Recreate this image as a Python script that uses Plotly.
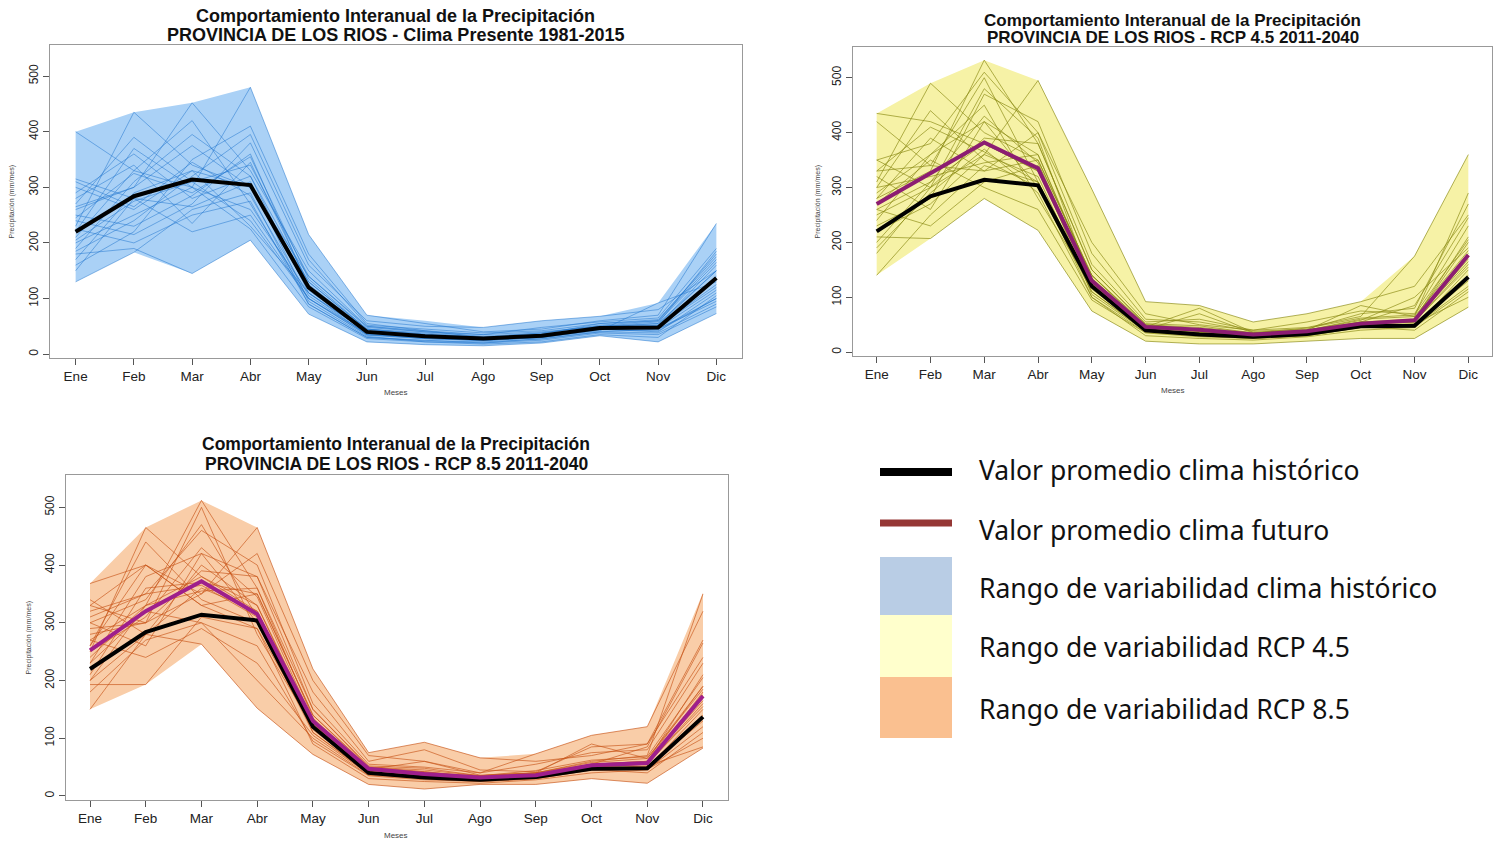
import plotly.graph_objects as go

# ---------------------------------------------------------------- data
meses = ["Ene", "Feb", "Mar", "Abr", "May", "Jun", "Jul", "Ago", "Sep", "Oct", "Nov", "Dic"]
y_ticks = [0, 100, 200, 300, 400, 500]

# mean monthly precipitation (mm/mes)
media_historica = [220, 284, 314, 304, 120, 40, 32, 28, 33, 47, 48, 137]
media_rcp45 = [270, 326, 382, 335, 130, 46, 41, 32, 38, 52, 58, 177]
media_rcp85 = [252, 320, 372, 315, 130, 47, 38, 32, 36, 53, 57, 173]

# variability range (max / min over the years)
hist_max = [400, 435, 452, 480, 215, 70, 60, 48, 60, 68, 92, 235]
hist_min = [130, 183, 145, 205, 72, 22, 17, 15, 20, 33, 22, 73]
rcp45_max = [435, 490, 532, 495, 297, 92, 85, 55, 70, 92, 175, 360]
rcp45_min = [140, 207, 280, 222, 75, 20, 15, 15, 20, 25, 25, 82]
rcp85_max = [368, 465, 512, 465, 220, 75, 93, 66, 73, 105, 120, 352]
rcp85_min = [150, 193, 263, 152, 72, 20, 12, 20, 20, 30, 22, 83]

# individual years
anios_historicos = [
    [400, 330, 300, 260, 110, 35, 28, 25, 30, 45, 50, 120],
    [230, 435, 340, 300, 130, 45, 35, 30, 35, 50, 55, 150],
    [260, 300, 452, 330, 150, 50, 40, 32, 38, 52, 60, 180],
    [200, 250, 300, 480, 215, 70, 55, 40, 45, 60, 70, 235],
    [130, 183, 260, 290, 90, 30, 25, 20, 28, 40, 45, 100],
    [180, 190, 145, 205, 72, 22, 17, 15, 20, 33, 22, 73],
    [315, 280, 220, 250, 100, 38, 30, 28, 32, 45, 40, 110],
    [270, 390, 310, 340, 140, 48, 40, 35, 40, 50, 52, 160],
    [160, 220, 350, 410, 180, 55, 42, 30, 35, 48, 55, 185],
    [250, 230, 285, 360, 120, 42, 35, 28, 35, 45, 48, 140],
    [210, 330, 420, 270, 100, 35, 30, 25, 30, 42, 92, 130],
    [300, 260, 330, 230, 110, 40, 30, 27, 32, 50, 45, 95],
    [190, 310, 395, 320, 130, 45, 38, 30, 36, 55, 60, 170],
    [240, 215, 270, 380, 160, 60, 50, 48, 60, 68, 80, 150],
    [150, 280, 265, 310, 95, 32, 22, 20, 25, 38, 35, 85],
    [220, 370, 300, 225, 85, 28, 22, 18, 22, 35, 30, 105],
    [280, 340, 235, 345, 125, 44, 33, 30, 34, 46, 50, 125],
    [265, 300, 375, 300, 115, 38, 30, 26, 32, 46, 52, 150],
    [185, 240, 320, 395, 170, 52, 45, 38, 42, 55, 62, 175],
    [245, 325, 290, 355, 135, 45, 36, 30, 38, 50, 58, 165],
    [310, 265, 345, 285, 105, 36, 28, 24, 30, 44, 46, 115],
    [170, 290, 330, 300, 140, 50, 42, 35, 48, 58, 65, 190],
    [225, 200, 250, 275, 90, 30, 24, 22, 27, 40, 38, 90],
    [290, 360, 280, 320, 110, 40, 32, 28, 34, 47, 50, 135],
    [205, 275, 310, 240, 100, 34, 28, 25, 30, 44, 42, 100],
]
anios_rcp45 = [
    [435, 420, 380, 330, 120, 40, 35, 30, 35, 50, 60, 200],
    [310, 490, 400, 350, 140, 45, 40, 32, 38, 55, 55, 180],
    [280, 330, 532, 380, 150, 50, 45, 35, 40, 60, 65, 290],
    [250, 300, 360, 495, 297, 92, 85, 55, 70, 92, 120, 250],
    [140, 250, 340, 310, 100, 30, 25, 22, 28, 40, 45, 150],
    [210, 207, 280, 222, 75, 20, 15, 15, 20, 25, 25, 82],
    [350, 380, 510, 400, 160, 55, 60, 40, 45, 65, 175, 360],
    [300, 440, 350, 300, 110, 40, 35, 28, 32, 48, 50, 140],
    [230, 280, 470, 420, 180, 60, 55, 38, 42, 70, 80, 270],
    [270, 350, 300, 260, 95, 35, 28, 25, 30, 45, 48, 120],
    [320, 260, 420, 360, 130, 45, 38, 30, 36, 55, 60, 210],
    [200, 310, 380, 330, 140, 50, 42, 32, 38, 52, 55, 160],
    [290, 360, 450, 280, 120, 42, 70, 35, 40, 58, 100, 190],
    [420, 340, 330, 400, 200, 70, 50, 40, 55, 75, 70, 230],
    [260, 230, 310, 340, 105, 38, 30, 26, 32, 46, 40, 110],
    [180, 300, 480, 390, 125, 48, 40, 30, 38, 50, 58, 170],
    [330, 410, 365, 310, 115, 40, 35, 28, 33, 48, 52, 100],
    [300, 320, 345, 360, 135, 45, 38, 30, 36, 52, 58, 165],
    [240, 360, 420, 300, 120, 42, 36, 30, 35, 50, 55, 175],
    [350, 300, 390, 380, 150, 52, 48, 35, 44, 62, 68, 205],
    [220, 270, 360, 320, 110, 38, 32, 27, 32, 48, 50, 130],
    [280, 390, 330, 350, 140, 48, 42, 33, 40, 55, 85, 245],
    [330, 340, 500, 310, 125, 44, 38, 30, 36, 52, 56, 155],
    [190, 290, 370, 290, 100, 36, 30, 25, 30, 45, 46, 115],
    [260, 310, 430, 345, 130, 46, 80, 36, 40, 85, 65, 185],
]
anios_rcp85 = [
    [368, 400, 330, 290, 120, 40, 35, 30, 35, 50, 55, 160],
    [250, 465, 380, 320, 130, 45, 40, 32, 38, 55, 60, 190],
    [200, 330, 512, 360, 150, 50, 45, 35, 40, 60, 70, 350],
    [280, 300, 350, 465, 220, 75, 93, 66, 60, 70, 90, 240],
    [150, 280, 263, 152, 72, 20, 12, 20, 20, 30, 22, 83],
    [193, 193, 310, 290, 90, 30, 25, 22, 28, 40, 45, 120],
    [320, 350, 460, 400, 160, 55, 50, 40, 73, 105, 120, 320],
    [260, 440, 340, 300, 110, 40, 35, 28, 32, 48, 50, 140],
    [300, 260, 420, 380, 180, 60, 80, 45, 42, 85, 90, 270],
    [230, 320, 300, 260, 95, 35, 28, 25, 30, 45, 48, 150],
    [340, 280, 400, 330, 130, 45, 38, 30, 36, 55, 60, 210],
    [210, 360, 370, 350, 140, 50, 42, 32, 38, 52, 55, 180],
    [290, 300, 500, 280, 120, 42, 40, 35, 40, 58, 65, 190],
    [330, 400, 350, 420, 200, 70, 60, 40, 55, 75, 80, 230],
    [270, 240, 290, 230, 105, 38, 30, 26, 32, 46, 40, 110],
    [240, 330, 380, 330, 125, 48, 40, 30, 38, 50, 58, 170],
    [310, 350, 365, 310, 115, 40, 35, 28, 33, 48, 52, 85],
    [270, 330, 355, 360, 135, 45, 38, 30, 36, 52, 58, 165],
    [230, 380, 420, 300, 120, 42, 36, 30, 35, 50, 55, 175],
    [330, 300, 390, 380, 150, 52, 48, 35, 44, 62, 68, 205],
    [200, 280, 360, 320, 110, 38, 32, 27, 32, 48, 50, 130],
    [260, 400, 330, 350, 140, 48, 42, 33, 40, 55, 85, 265],
    [300, 340, 470, 310, 125, 44, 38, 30, 36, 52, 56, 155],
    [180, 270, 300, 200, 100, 36, 30, 25, 30, 45, 46, 100],
    [250, 310, 430, 345, 130, 46, 60, 36, 40, 90, 65, 185],
]

titulo_1 = "Comportamiento Interanual de la Precipitación"
subtitulos = [
    "PROVINCIA DE LOS RIOS - Clima Presente 1981-2015",
    "PROVINCIA DE LOS RIOS - RCP 4.5 2011-2040",
    "PROVINCIA DE LOS RIOS - RCP 8.5 2011-2040",
]
leyenda_textos = [
    "Valor promedio clima histórico",
    "Valor promedio clima futuro",
    "Rango de variabilidad clima histórico",
    "Rango de variabilidad RCP 4.5",
    "Rango de variabilidad RCP 8.5",
]

# ---------------------------------------------------------------- layout
W, H = 1504, 843
FONT = "Liberation Sans, Arial, sans-serif"

# pixel boxes: (left, right, top, bottom)
paneles = [
    dict(box=(50, 742, 45, 358), title_y=(16, 35), title_size=18, meses_y=393,
         ylab_x=12, band=(hist_max, hist_min), anios=anios_historicos,
         fill="#AAD1F6", line="rgba(30,115,205,0.5)", futuro=None, fcol=None),
    dict(box=(853, 1492, 47, 356), title_y=(20, 38), title_size=17, meses_y=390,
         ylab_x=818, band=(rcp45_max, rcp45_min), anios=anios_rcp45,
         fill="#F6F2A6", line="rgba(135,135,15,0.65)", futuro=media_rcp45, fcol="#8C1D72"),
    dict(box=(65.5, 727.5, 475, 800), title_y=(444, 464), title_size=17.5, meses_y=835,
         ylab_x=28, band=(rcp85_max, rcp85_min), anios=anios_rcp85,
         fill="#F9CDA8", line="rgba(200,85,25,0.65)", futuro=media_rcp85, fcol="#9E1F8C"),
]

x = list(range(len(meses)))
fig = go.Figure()
annotations = []
shapes = []

for i, p in enumerate(paneles, start=1):
    l, r, t, b = p["box"]
    xa = "x" if i == 1 else f"x{i}"
    ya = "y" if i == 1 else f"y{i}"
    lay_x = "xaxis" if i == 1 else f"xaxis{i}"
    lay_y = "yaxis" if i == 1 else f"yaxis{i}"

    up, lo = p["band"]
    fig.add_trace(go.Scatter(
        x=x + x[::-1], y=up + lo[::-1], fill="toself", fillcolor=p["fill"],
        line=dict(width=0), mode="lines", hoverinfo="skip", showlegend=False,
        xaxis=xa, yaxis=ya))
    for serie in p["anios"]:
        fig.add_trace(go.Scatter(
            x=x, y=serie, mode="lines", line=dict(color=p["line"], width=1),
            showlegend=False, xaxis=xa, yaxis=ya))
    fig.add_trace(go.Scatter(
        x=x, y=media_historica, mode="lines", line=dict(color="#000000", width=4),
        showlegend=False, xaxis=xa, yaxis=ya))
    if p["futuro"] is not None:
        fig.add_trace(go.Scatter(
            x=x, y=p["futuro"], mode="lines", line=dict(color=p["fcol"], width=4),
            showlegend=False, xaxis=xa, yaxis=ya))

    fig.update_layout({
        lay_x: dict(domain=[l / W, r / W], range=[-0.44, 11.44], anchor=ya,
                    tickvals=x, ticktext=meses, ticks="outside", ticklen=6,
                    tickcolor="#555", showline=True, mirror=True, linecolor="#999",
                    linewidth=1, showgrid=False, zeroline=False,
                    tickfont=dict(family=FONT, size=13.5, color="#222")),
        lay_y: dict(domain=[1 - b / H, 1 - t / H], range=[-7, 556], anchor=xa,
                    tickvals=y_ticks, ticks="outside", ticklen=6, tickangle=-90,
                    tickcolor="#555", showline=True, mirror=True, linecolor="#999",
                    linewidth=1, showgrid=False, zeroline=False,
                    tickfont=dict(family=FONT, size=12, color="#222")),
    })

    cx = (l + r) / 2 / W
    annotations.append(dict(text=f"<b>{titulo_1}</b>", x=cx, y=1 - p["title_y"][0] / H,
                            xref="paper", yref="paper", showarrow=False,
                            xanchor="center", yanchor="middle",
                            font=dict(family=FONT, size=p["title_size"], color="#111")))
    annotations.append(dict(text=f"<b>{subtitulos[i - 1]}</b>", x=cx, y=1 - p["title_y"][1] / H,
                            xref="paper", yref="paper", showarrow=False,
                            xanchor="center", yanchor="middle",
                            font=dict(family=FONT, size=p["title_size"], color="#111")))
    annotations.append(dict(text="Meses", x=cx, y=1 - p["meses_y"] / H,
                            xref="paper", yref="paper", showarrow=False,
                            xanchor="center", yanchor="middle",
                            font=dict(family=FONT, size=8, color="#444")))
    annotations.append(dict(text="Precipitación (mm/mes)", x=p["ylab_x"] / W,
                            y=1 - (t + b) / 2 / H, textangle=-90,
                            xref="paper", yref="paper", showarrow=False,
                            xanchor="center", yanchor="middle",
                            font=dict(family=FONT, size=7, color="#444")))

# ---------------------------------------------------------------- legend block
LX0, LX1 = 880, 952
shapes.append(dict(type="line", xref="paper", yref="paper", x0=LX0 / W, x1=LX1 / W,
                   y0=1 - 472 / H, y1=1 - 472 / H, line=dict(color="#000000", width=8)))
shapes.append(dict(type="line", xref="paper", yref="paper", x0=LX0 / W, x1=LX1 / W,
                   y0=1 - 523 / H, y1=1 - 523 / H, line=dict(color="#953735", width=7)))
for (y0, y1, col) in [(557, 615, "#B9CDE5"), (615, 677, "#FFFFCC"), (677, 738, "#FAC090")]:
    shapes.append(dict(type="rect", xref="paper", yref="paper", x0=LX0 / W, x1=LX1 / W,
                       y0=1 - y1 / H, y1=1 - y0 / H, line=dict(width=0), fillcolor=col))
for txt, yy in zip(leyenda_textos, [470, 530, 588, 647, 709]):
    annotations.append(dict(text=txt, x=977 / W, y=1 - yy / H, xref="paper", yref="paper",
                            showarrow=False, xanchor="left", yanchor="middle",
                            font=dict(family="Noto Sans, DejaVu Sans, sans-serif",
                                      size=26.5, color="#111")))

fig.update_layout(width=W, height=H, margin=dict(l=0, r=0, t=0, b=0),
                  paper_bgcolor="white", plot_bgcolor="white",
                  annotations=annotations, shapes=shapes, showlegend=False)

fig.write_html("out.html")
